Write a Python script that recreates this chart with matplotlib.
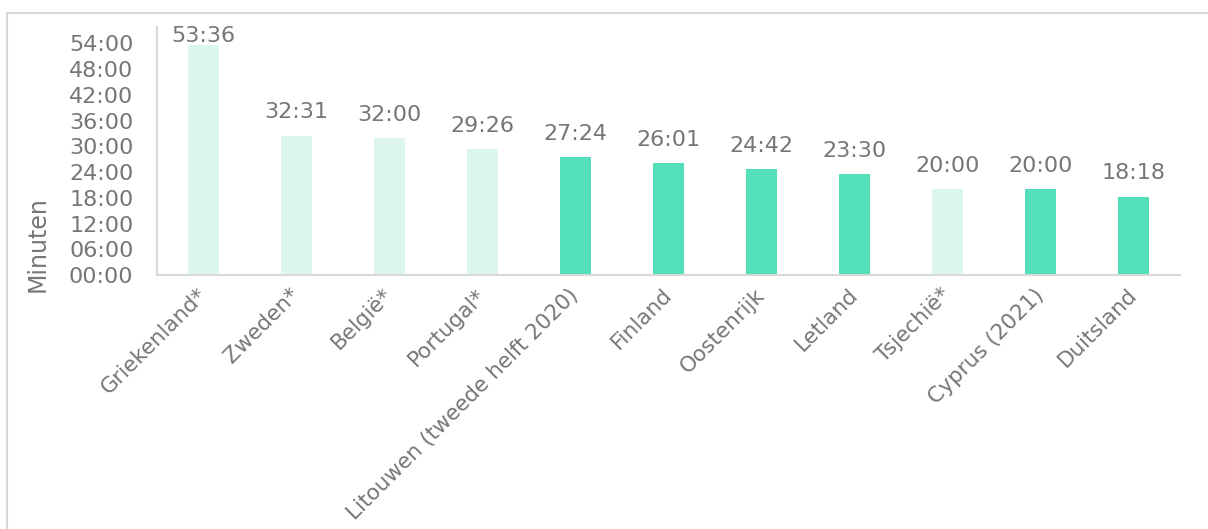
import matplotlib
import matplotlib.pyplot as plt
from matplotlib.patches import Rectangle
from matplotlib.ticker import FuncFormatter, MultipleLocator

matplotlib.use("Agg")

# Data (mm:ss)
countries = [
    "Griekenland*", "Zweden*", "België*", "Portugal*",
    "Litouwen (tweede helft 2020)", "Finland", "Oostenrijk", "Letland",
    "Tsjechië*", "Cyprus (2021)", "Duitsland",
]
durations = ["53:36", "32:31", "32:00", "29:26", "27:24", "26:01",
             "24:42", "23:30", "20:00", "20:00", "18:18"]

LIGHT = "#dcf6ef"
DARK = "#52dfba"
GREY_TXT = "#767676"
GREY_LINE = "#d9d9d9"
FS = 16


def to_minutes(s):
    m, sec = s.split(":")
    return int(m) + int(sec) / 60.0


def fmt_mmss(v, pos=None):
    total = int(round(v * 60))
    return f"{total // 60:02d}:{total % 60:02d}"


values = [to_minutes(d) for d in durations]
# starred countries are drawn in the pale colour
colors = [LIGHT if c.endswith("*") else DARK for c in countries]

fig = plt.figure(figsize=(12.08, 5.29), dpi=100)
ax = fig.add_axes([0.130, 0.480, 0.847, 0.469])

# light grey frame around the chart area
fig.patches.append(Rectangle((7 / 1208, -0.05), 1.05, 0.05 + 1 - 12.5 / 529,
                             transform=fig.transFigure, fill=False,
                             edgecolor=GREY_LINE, linewidth=1.5))

x = range(len(countries))
ax.bar(x, values, width=0.33, color=colors)

ymax = 57.8
ax.set_ylim(0, ymax)
ax.set_xlim(-0.5, len(countries) - 0.5)

for xi, v, lab in zip(x, values, durations):
    y = min(v + 4.0, ymax - 3.45)
    ax.text(xi, y, lab, ha="center", va="baseline", fontsize=FS,
            color=GREY_TXT)

ax.yaxis.set_major_locator(MultipleLocator(6))
ax.yaxis.set_major_formatter(FuncFormatter(fmt_mmss))
ax.tick_params(axis="y", length=0, pad=17, labelsize=FS, labelcolor=GREY_TXT)
ax.tick_params(axis="x", length=0, pad=12, labelsize=15.5, labelcolor=GREY_TXT)

ax.set_xticks(list(x))
ax.set_xticklabels(countries, rotation=45, ha="right", va="center",
                   rotation_mode="anchor")

ax.set_ylabel("Minuten", fontsize=17, color=GREY_TXT)
ax.yaxis.set_label_coords(-0.105, 0.125)

for side in ["top", "right"]:
    ax.spines[side].set_visible(False)
for side in ["left", "bottom"]:
    ax.spines[side].set_color(GREY_LINE)
    ax.spines[side].set_linewidth(1.5)

fig.savefig("out.png", dpi=100)
plt.close(fig)
